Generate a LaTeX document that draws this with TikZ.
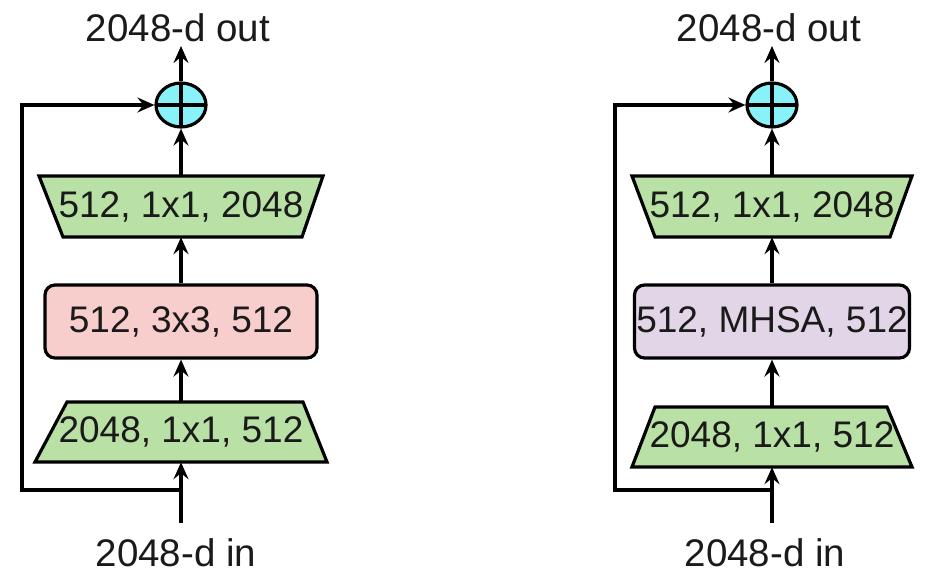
\documentclass[tikz,border=0pt]{standalone}
\usepackage{fontspec}
\setmainfont{Liberation Sans}
\usetikzlibrary{arrows.meta,shapes.geometric}
\definecolor{gfill}{HTML}{B9E0A5}
\definecolor{pfill}{HTML}{F8CECC}
\definecolor{vfill}{HTML}{E1D5E7}
\definecolor{cfill}{HTML}{88F2F8}
\definecolor{tcol}{HTML}{1A1A1A}
\tikzset{
  x=1pt,y=-1pt,
  lw/.style={line width=3.2pt},
  arr/.style={lw,-{Stealth[length=17pt,width=15pt,inset=6pt]}},
  shapeline/.style={lw,line join=miter},
  lbl/.style={inner sep=0pt,text=tcol,font=\fontsize{38.5}{44}\selectfont},
  boxtxt/.style={inner sep=0pt,draw=none,text=tcol,font=\fontsize{37}{42}\selectfont},
  plus/.style={ellipse,draw,lw,fill=cfill,minimum width=50pt,minimum height=44pt,inner sep=0pt,
    path picture={\draw[lw] (path picture bounding box.north) -- (path picture bounding box.south)
      (path picture bounding box.west) -- (path picture bounding box.east);}},
  rbox/.style={draw,lw,rounded corners=10pt,inner sep=0pt,text=tcol,font=\fontsize{37}{42}\selectfont},
}
\begin{document}
\begin{tikzpicture}
\useasboundingbox (0,0) rectangle (927,585);
% ---------- left ----------
\node[lbl] (outL) at (178,28) {2048-d out};
\node[lbl] (inL) at (176,553) {2048-d in};
\node[plus] (plusL) at (181,105) {};
\filldraw[shapeline,fill=gfill] (39,176) -- (323,176) -- (302,237) -- (63,237) -- cycle;
\node[boxtxt,minimum width=260pt,minimum height=61pt] (t1L) at (181,206.5) {512, 1x1, 2048};
\node[rbox,fill=pfill,minimum width=272pt,minimum height=73pt] (midL) at (181,321.5) {512, 3x3, 512};
\filldraw[shapeline,fill=gfill] (67,402) -- (303,402) -- (327,462) -- (35,462) -- cycle;
\node[boxtxt,minimum width=260pt,minimum height=60pt] (t2L) at (181,432) {2048, 1x1, 512};
\coordinate (otL) at (181,46);
\coordinate (itL) at (181,523);
\coordinate (jL) at (181,490);
\coordinate (skL) at (22,490);
\draw[arr] (plusL.north) -- (otL);
\draw[arr] (t1L.north) -- (plusL.south);
\draw[arr] (midL.north) -- (t1L.south);
\draw[arr] (t2L.north) -- (midL.south);
\draw[arr] (itL) -- (t2L.south);
\draw[arr] (jL) -- (skL) |- (plusL.west);
% ---------- right ----------
\node[lbl] (outR) at (769,28) {2048-d out};
\node[lbl] (inR) at (765,553) {2048-d in};
\node[plus] (plusR) at (772,105) {};
\filldraw[shapeline,fill=gfill] (632,176) -- (912,176) -- (890,237) -- (655,237) -- cycle;
\node[boxtxt,minimum width=260pt,minimum height=61pt] (t1R) at (772,206.5) {512, 1x1, 2048};
\node[rbox,fill=vfill,minimum width=275pt,minimum height=73pt] (midR) at (772,321.5) {512, MHSA, 512};
\filldraw[shapeline,fill=gfill] (655,407) -- (887,407) -- (912,467) -- (632,467) -- cycle;
\node[boxtxt,minimum width=260pt,minimum height=60pt] (t2R) at (772,437) {2048, 1x1, 512};
\coordinate (otR) at (772,46);
\coordinate (itR) at (772,523);
\coordinate (jR) at (772,490);
\coordinate (skR) at (615,490);
\draw[arr] (plusR.north) -- (otR);
\draw[arr] (t1R.north) -- (plusR.south);
\draw[arr] (midR.north) -- (t1R.south);
\draw[arr] (t2R.north) -- (midR.south);
\draw[arr] (itR) -- (t2R.south);
\draw[arr] (jR) -- (skR) |- (plusR.west);
\end{tikzpicture}
\end{document}
